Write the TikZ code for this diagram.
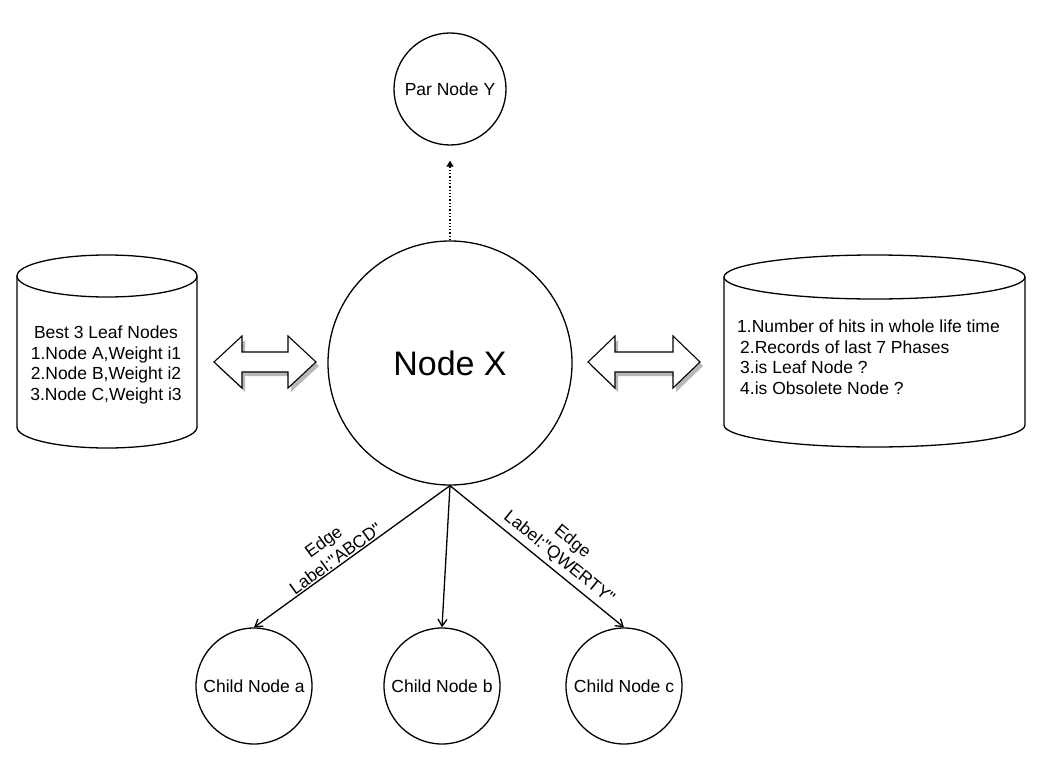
\documentclass[tikz,border=0pt]{standalone}
\usepackage{fontspec}
\setmainfont{Liberation Sans}
\newfontfamily\plainfont{Liberation Sans}
\usetikzlibrary{arrows.meta}
\begin{document}
\begin{tikzpicture}[x=1pt,y=-1pt,
  circ/.style={circle,draw,line width=1.3pt,inner sep=0pt,font=\fontsize{17.5}{20.5}\selectfont},
  edgearrow/.style={line width=1.3pt,-{Straight Barb[length=7pt,width=9pt,line width=1.3pt]}},
  lbl/.style={font=\fontsize{17.5}{20.5}\selectfont,align=center,inner sep=0pt},
  edgelbl/.style={font=\plainfont\fontsize{17.5}{21}\selectfont,align=center,inner sep=0pt},
  shp/.style={line width=1.3pt},
  blockarrow/.style={draw,fill=white,line width=1.1pt,line join=miter},
  shadowfill/.style={fill=black!28,draw=none}]
\useasboundingbox (0,0) rectangle (1048,765);

% circles
\node[circ,minimum size=244pt,font=\fontsize{34}{40}\selectfont] (X) at (450,363) {Node X};
\node[circ,minimum size=112pt] (Y) at (450,89) {Par Node Y};
\node[circ,minimum size=116pt] (a) at (254,686) {Child Node a};
\node[circ,minimum size=116pt] (b) at (442,686) {Child Node b};
\node[circ,minimum size=116pt] (c) at (624,686) {Child Node c};

% connectors
\draw[line width=1.3pt,dotted,shorten >=15pt,-{Triangle[length=6pt,width=7pt]}] (X.north) -- (Y.south);
\draw[edgearrow] (X.south) -- node[edgelbl,sloped,above=1pt,pos=0.56]{Edge\\Label:"ABCD"} (a.north);
\draw[edgearrow] (X.south) -- (b.north);
\draw[edgearrow] (X.south) -- node[edgelbl,sloped,above=4pt,pos=0.58]{Edge\\Label:"QWERTY"} (c.north);

% left cylinder
\draw[shp] (17,276) -- (17,427) arc[start angle=180,end angle=0,x radius=90,y radius=21] -- (197,276);
\draw[shp] (107,276) ellipse[x radius=90,y radius=21];
\node[lbl] (L) at (106,365) {Best 3 Leaf Nodes\\1.Node A,Weight i1\\2.Node B,Weight i2\\3.Node C,Weight i3};

% right cylinder
\draw[shp] (724,277) -- (724,425) arc[start angle=180,end angle=0,x radius=150.5,y radius=22] -- (1025,277);
\draw[shp] (874.5,277) ellipse[x radius=150.5,y radius=22];
\node[lbl,align=left,anchor=west] (R) at (737,357) {1.Number of hits in whole life time\\\hspace*{3pt}2.Records of last 7 Phases\\\hspace*{3pt}3.is Leaf Node ?\\\hspace*{3pt}4.is Obsolete Node ?};

% block double arrows with shadow
\begin{scope}[shift={(3,4)}]
\fill[shadowfill] (214,362) -- (242,336) -- (242,352) -- (288,352) -- (288,336) -- (316,362) -- (288,388) -- (288,372) -- (242,372) -- (242,388) -- cycle;
\fill[shadowfill] (588,362) -- (615,336) -- (615,352) -- (673,352) -- (673,336) -- (700,362) -- (673,388) -- (673,372) -- (615,372) -- (615,388) -- cycle;
\end{scope}
\path[blockarrow] (214,362) -- (242,336) -- (242,352) -- (288,352) -- (288,336) -- (316,362) -- (288,388) -- (288,372) -- (242,372) -- (242,388) -- cycle;
\path[blockarrow] (588,362) -- (615,336) -- (615,352) -- (673,352) -- (673,336) -- (700,362) -- (673,388) -- (673,372) -- (615,372) -- (615,388) -- cycle;
\end{tikzpicture}
\end{document}
